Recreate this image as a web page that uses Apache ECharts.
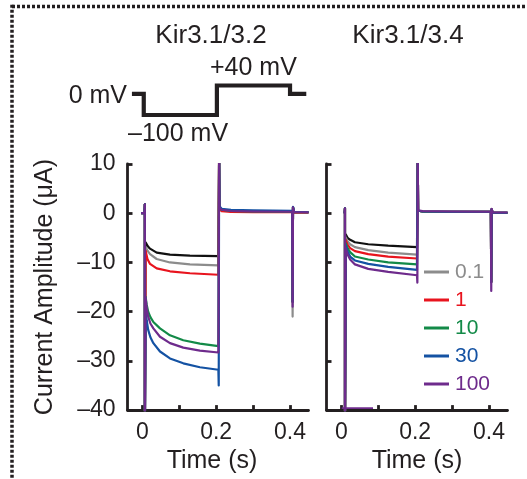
<!DOCTYPE html>
<html><head><meta charset="utf-8">
<script src="https://cdn.jsdelivr.net/npm/echarts@6/dist/echarts.min.js"></script>
<style>html,body{margin:0;padding:0;background:#fff}#c{width:527px;height:479px}</style>
</head><body><div id="c"></div>
<script>
const FONT = '"Liberation Sans", Arial, Helvetica, sans-serif';
const INK = '#231f20';

const panelTitles = ['Kir3.1/3.2', 'Kir3.1/3.4'];
const legendNames = ['0.1', '1', '10', '30', '100'];
const legendColors = ['#8c8c8c', '#e8141e', '#138a48', '#1452a3', '#6e2b8c'];
const controlColor = '#111111';
const yTicks = [-40, -30, -20, -10, 0, 10];
const xTicks = [0, 0.1, 0.2, 0.3, 0.4];
const xTickLabels = [0, 0.2, 0.4];
const xAxisTitle = 'Time (s)';
const yAxisTitle = 'Current Amplitude (μA)';

// voltage protocol (s, mV)
const protoTime = [-0.028, 0.004, 0.004, 0.202, 0.202, 0.4, 0.4, 0.444];
const protoMv = [0, 0, -100, -100, 40, 40, 0, 0];
const protoLabels = ['0 mV', '–100 mV', '+40 mV'];

// Kir3.1/3.2 traces [time s, current µA]
const k32_ctrl = [[-0.003,0],[0.006,0],[0.007,1.8],[0.007,-45],[0.009,-5.9],[0.015,-6.7],[0.021,-7.2],[0.039,-8.0],[0.075,-8.4],[0.129,-8.6],[0.206,-8.7],[0.207,-8.7],[0.208,12],[0.209,1.0],[0.215,0.6],[0.24,0.4],[0.3,0.3],[0.406,0.3],[0.407,-18],[0.408,1.2],[0.411,0.2],[0.45,0.2]];
const k32_01 = [[-0.003,0],[0.006,0],[0.007,1.8],[0.007,-45],[0.009,-6.8],[0.015,-7.7],[0.021,-8.3],[0.039,-9.3],[0.075,-10.0],[0.129,-10.4],[0.206,-10.6],[0.207,-10.6],[0.208,12],[0.209,1.0],[0.215,0.6],[0.24,0.4],[0.3,0.3],[0.406,0.3],[0.407,-21],[0.408,1.2],[0.411,0.2],[0.45,0.2]];
const k32_1 = [[-0.003,0],[0.006,0],[0.007,1.8],[0.007,-45],[0.009,-7.6],[0.014,-9.3],[0.021,-10.3],[0.039,-11.2],[0.075,-11.8],[0.129,-12.2],[0.206,-12.5],[0.207,-12.5],[0.208,12],[0.209,0.8],[0.215,0.4],[0.24,0.25],[0.3,0.2],[0.406,0.2],[0.407,-18],[0.408,1.0],[0.411,0.1],[0.45,0.1]];
const k32_10 = [[-0.003,0],[0.006,0],[0.007,1.8],[0.007,-45],[0.009,-17.0],[0.012,-18.6],[0.016,-20.0],[0.022,-21.1],[0.030,-22.1],[0.048,-23.4],[0.075,-24.8],[0.111,-25.8],[0.156,-26.5],[0.206,-27.0],[0.207,-27.0],[0.208,12],[0.209,1.1],[0.215,0.7],[0.24,0.45],[0.3,0.35],[0.406,0.3],[0.407,-18],[0.408,1.2],[0.411,0.2],[0.45,0.2]];
const k32_30 = [[-0.003,0],[0.006,0],[0.007,1.8],[0.007,-45],[0.009,-19.4],[0.012,-21.8],[0.016,-23.7],[0.022,-25.2],[0.030,-26.4],[0.048,-28.1],[0.075,-29.5],[0.111,-30.5],[0.156,-31.3],[0.206,-31.8],[0.207,-35],[0.208,12],[0.209,1.4],[0.215,0.9],[0.24,0.7],[0.3,0.6],[0.406,0.5],[0.407,-18],[0.408,1.3],[0.411,0.3],[0.45,0.2]];
const k32_100 = [[-0.003,0],[0.006,0],[0.007,1.8],[0.007,-45],[0.009,-17.1],[0.012,-19.3],[0.016,-21.0],[0.022,-22.4],[0.030,-23.4],[0.048,-25.1],[0.075,-26.4],[0.111,-27.3],[0.156,-27.9],[0.206,-28.3],[0.207,-28.3],[0.208,12],[0.209,1.1],[0.215,0.7],[0.24,0.45],[0.3,0.35],[0.406,0.3],[0.407,-19],[0.408,1.2],[0.411,0.2],[0.45,0.2]];

// Kir3.1/3.4 traces [time s, current µA]
const k34_ctrl = [[0.009,0],[0.010,1.0],[0.010,-45],[0.012,-4.3],[0.017,-5.0],[0.024,-5.4],[0.037,-5.9],[0.073,-6.3],[0.127,-6.6],[0.205,-6.9],[0.206,-6.9],[0.207,12],[0.208,0.5],[0.22,0.35],[0.3,0.3],[0.405,0.3],[0.406,-14],[0.407,0.8],[0.41,0.1],[0.45,0.1]];
const k34_01 = [[0.009,0],[0.010,1.0],[0.010,-45],[0.012,-4.9],[0.017,-5.7],[0.024,-6.3],[0.037,-6.9],[0.073,-7.5],[0.127,-8.0],[0.205,-8.4],[0.206,-8.4],[0.207,12],[0.208,0.5],[0.22,0.35],[0.3,0.3],[0.405,0.3],[0.406,-14],[0.407,0.8],[0.41,0.1],[0.45,0.1]];
const k34_1 = [[0.009,0],[0.010,1.0],[0.010,-45],[0.012,-5.4],[0.017,-6.4],[0.024,-7.1],[0.037,-7.7],[0.073,-8.3],[0.127,-8.8],[0.205,-9.2],[0.206,-9.2],[0.207,12],[0.208,0.5],[0.22,0.35],[0.3,0.3],[0.405,0.3],[0.406,-14],[0.407,0.8],[0.41,0.1],[0.45,0.1]];
const k34_10 = [[0.009,0],[0.010,1.0],[0.010,-45],[0.012,-6.1],[0.017,-7.1],[0.024,-7.9],[0.037,-8.8],[0.073,-9.4],[0.127,-10.0],[0.205,-10.4],[0.206,-10.4],[0.207,12],[0.208,0.5],[0.22,0.35],[0.3,0.3],[0.405,0.3],[0.406,-14],[0.407,0.8],[0.41,0.1],[0.45,0.1]];
const k34_30 = [[0.009,0],[0.010,1.0],[0.010,-45],[0.012,-6.5],[0.017,-7.7],[0.024,-8.8],[0.037,-9.6],[0.073,-10.3],[0.127,-10.9],[0.205,-11.5],[0.206,-11.5],[0.207,12],[0.208,0.5],[0.22,0.35],[0.3,0.3],[0.405,0.3],[0.406,-14],[0.407,0.8],[0.41,0.1],[0.45,0.1]];
const k34_100 = [[0.009,0],[0.010,1.0],[0.010,-45],[0.012,-7.1],[0.017,-8.4],[0.024,-9.4],[0.037,-10.4],[0.073,-11.3],[0.127,-11.9],[0.205,-12.6],[0.206,-14.1],[0.207,12],[0.208,0.6],[0.22,0.45],[0.3,0.35],[0.405,0.3],[0.406,-15.8],[0.407,0.9],[0.41,0.15],[0.45,0.15]];
const k34_100_clip = [[0.001,-39.6],[0.086,-39.6]];

const panels = [
  {ctrl: k32_ctrl, traces: [k32_01, k32_1, k32_10, k32_30, k32_100], extra: null},
  {ctrl: k34_ctrl, traces: [k34_01, k34_1, k34_10, k34_30, k34_100], extra: k34_100_clip}
];

const gridLefts = [127.5, 326.5];
const GRID_TOP = 164, GRID_H = 247.5, GRID_W = 181;
const txt = (extra) => Object.assign({color: INK, fontFamily: FONT}, extra);
const fmtY = v => (v < 0 ? '–' + Math.abs(v) : String(v));

const grids = gridLefts.map(l => ({left: l, top: GRID_TOP, width: GRID_W, height: GRID_H}));
grids.push({left: gridLefts[0], top: 85.5, width: GRID_W, height: 29.5});

const xAxes = gridLefts.map((l, i) => ({
  gridIndex: i, type: 'value', min: -0.04, max: 0.45,
  axisLine: {show: true, onZero: false, lineStyle: {color: INK, width: 2.8}},
  axisTick: {show: true, inside: true, length: 5, customValues: xTicks, lineStyle: {color: INK, width: 2.8}},
  axisLabel: {show: true, customValues: xTickLabels, margin: 11, ...txt({fontSize: 23})},
  splitLine: {show: false},
  name: xAxisTitle, nameLocation: 'middle', nameGap: 37,
  nameTextStyle: txt({fontSize: 25, padding: i === 0 ? [0, 12, 0, 0] : [0, 0, 0, 0]})
}));
xAxes.push({gridIndex: 2, type: 'value', min: -0.04, max: 0.45, show: false});

const yAxes = gridLefts.map((l, i) => ({
  gridIndex: i, type: 'value', min: yTicks[0], max: yTicks[yTicks.length - 1], interval: 10,
  axisLine: {show: true, onZero: false, lineStyle: {color: INK, width: 2.8}},
  axisTick: {show: true, inside: true, length: 5, lineStyle: {color: INK, width: 2.8}},
  axisLabel: {show: i === 0, formatter: fmtY, margin: 12, ...txt({fontSize: 23})},
  splitLine: {show: false},
  name: i === 0 ? yAxisTitle : '', nameLocation: 'middle', nameGap: 70, nameRotate: 90,
  nameTextStyle: txt({fontSize: 25})
}));
yAxes.push({gridIndex: 2, type: 'value', min: -100, max: 40, show: false});

const series = [];
const lineSeries = (name, data, color, idx, w) => ({
  name, type: 'line', data, xAxisIndex: idx, yAxisIndex: idx, showSymbol: false, symbol: 'none',
  clip: true, silent: true, color,
  lineStyle: {color, width: w || 2.2, join: 'round'}
});
panels.forEach((p, i) => {
  series.push(lineSeries('control', p.ctrl, controlColor, i));
  p.traces.forEach((d, k) => series.push(lineSeries(legendNames[k], d, legendColors[k], i)));
  if (p.extra) series.push(lineSeries('clip', p.extra, legendColors[4], i, 1.8));
});
series.push(Object.assign(lineSeries('protocol', protoTime.map((t, j) => [t, protoMv[j]]), INK, 2, 4.2), {clip: false}));
series[series.length - 1].lineStyle.join = 'miter';

const graphic = [
  {type: 'line', shape: {x1: 12, y1: 6.5, x2: 527, y2: 6.5}, style: {stroke: INK, lineWidth: 3.5, lineDash: [3, 2]}},
  {type: 'line', shape: {x1: 12, y1: 4.75, x2: 12, y2: 479}, style: {stroke: INK, lineWidth: 3.5, lineDash: [3, 2]}},
  {type: 'text', x: 211, y: 36, style: {text: panelTitles[0], fill: INK, font: '26px ' + FONT, align: 'center', verticalAlign: 'middle'}},
  {type: 'text', x: 408, y: 36, style: {text: panelTitles[1], fill: INK, font: '26px ' + FONT, align: 'center', verticalAlign: 'middle'}},
  {type: 'text', x: 127, y: 96, style: {text: protoLabels[0], fill: INK, font: '25px ' + FONT, align: 'right', verticalAlign: 'middle'}},
  {type: 'text', x: 128, y: 134, style: {text: protoLabels[1], fill: INK, font: '25px ' + FONT, align: 'left', verticalAlign: 'middle'}},
  {type: 'text', x: 210, y: 68, style: {text: protoLabels[2], fill: INK, font: '25px ' + FONT, align: 'left', verticalAlign: 'middle'}}
];

const chart = echarts.init(document.getElementById('c'), null, {renderer: 'canvas'});
chart.setOption({
  animation: false,
  backgroundColor: '#fff',
  grid: grids, xAxis: xAxes, yAxis: yAxes, series, graphic,
  legend: {
    orient: 'vertical', left: 419, top: 256.5, padding: 5, itemWidth: 25, itemHeight: 3, itemGap: 7,
    icon: 'rect', selectedMode: false,
    data: legendNames.map((n, k) => ({name: n, textStyle: {color: legendColors[k]}})),
    textStyle: {fontSize: 21, fontFamily: FONT, padding: [0, 0, 0, 1]}
  }
});
</script></body></html>
